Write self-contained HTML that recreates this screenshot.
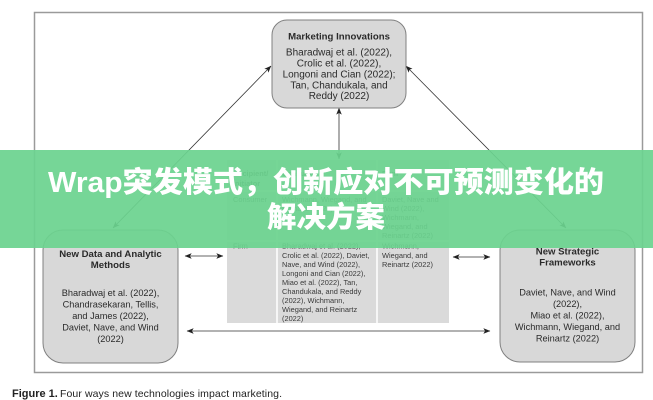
<!DOCTYPE html>
<html><head><meta charset="utf-8"><style>
html,body{margin:0;padding:0;background:#fff;}
svg{display:block;}
</style></head><body>
<svg width="653" height="400" viewBox="0 0 653 400" xmlns="http://www.w3.org/2000/svg" font-family="'Liberation Sans', Arial, sans-serif">
<defs>
<marker id="ah" viewBox="0 0 10 8" refX="9.5" refY="4" markerWidth="7" markerHeight="5.6" markerUnits="userSpaceOnUse" orient="auto-start-reverse">
<path d="M0,0 L10,4 L0,8 L2.5,4 Z" fill="#222"/>
</marker>
</defs>
<rect x="0" y="0" width="653" height="400" fill="#fff"/>
<!-- frame -->
<rect x="34.5" y="12.5" width="608" height="360" fill="none" stroke="#9a9a9a" stroke-width="1.5"/>

<!-- connectors -->
<g stroke="#333" stroke-width="0.8" fill="none">
<line x1="339" y1="159" x2="339" y2="108" marker-start="url(#ah)" marker-end="url(#ah)"/>
<line x1="113" y1="228" x2="271" y2="66" marker-start="url(#ah)" marker-end="url(#ah)"/>
<line x1="566" y1="228" x2="406" y2="66" marker-start="url(#ah)" marker-end="url(#ah)"/>
<line x1="185" y1="256" x2="223" y2="256" marker-start="url(#ah)" marker-end="url(#ah)"/>
<line x1="453" y1="257" x2="490" y2="257" marker-start="url(#ah)" marker-end="url(#ah)"/>
<line x1="187" y1="331" x2="490" y2="331" marker-start="url(#ah)" marker-end="url(#ah)"/>
</g>

<!-- Marketing Innovations -->
<rect x="272" y="20" width="134" height="88" rx="15" fill="#d8d8d8" stroke="#808080" stroke-width="1"/>
<g fill="#2a2a2a" text-anchor="middle">
<text x="339" y="39.5" font-size="9.6" font-weight="bold">Marketing Innovations</text>
<g font-size="10">
<text x="339" y="55.5">Bharadwaj et al. (2022),</text>
<text x="339" y="66.5">Crolic et al. (2022),</text>
<text x="339" y="77.5">Longoni and Cian (2022);</text>
<text x="339" y="88.5">Tan, Chandukala, and</text>
<text x="339" y="99">Reddy (2022)</text>
</g>
</g>

<!-- Left box -->
<rect x="43" y="230" width="135" height="133" rx="20" fill="#d8d8d8" stroke="#808080" stroke-width="1"/>
<g fill="#2a2a2a" text-anchor="middle">
<text x="110.5" y="257" font-size="9.6" font-weight="bold">New Data and Analytic</text>
<text x="110.5" y="268" font-size="9.6" font-weight="bold">Methods</text>
<g font-size="9.2">
<text x="110.5" y="296">Bharadwaj et al. (2022),</text>
<text x="110.5" y="307.5">Chandrasekaran, Tellis,</text>
<text x="110.5" y="319">and James (2022),</text>
<text x="110.5" y="330.5">Daviet, Nave, and Wind</text>
<text x="110.5" y="342">(2022)</text>
</g>
</g>

<!-- Right box -->
<rect x="500" y="230" width="135" height="132" rx="20" fill="#d8d8d8" stroke="#808080" stroke-width="1"/>
<g fill="#2a2a2a" text-anchor="middle">
<text x="567.5" y="254.5" font-size="9.6" font-weight="bold">New Strategic</text>
<text x="567.5" y="265.5" font-size="9.6" font-weight="bold">Frameworks</text>
<g font-size="9.2">
<text x="567.5" y="295.5">Daviet, Nave, and Wind</text>
<text x="567.5" y="307">(2022),</text>
<text x="567.5" y="318.5">Miao et al. (2022),</text>
<text x="567.5" y="330">Wichmann, Wiegand, and</text>
<text x="567.5" y="341.5">Reinartz (2022)</text>
</g>
</g>

<!-- Middle table -->
<rect x="227" y="160" width="222" height="163" fill="#dadada"/>
<g stroke="#fff" stroke-width="1.5">
<line x1="277" y1="160" x2="277" y2="323"/>
<line x1="377" y1="160" x2="377" y2="323"/>
<line x1="227" y1="191" x2="449" y2="191"/>
<line x1="227" y1="241" x2="449" y2="241"/>
</g>
<g fill="#3a3a3a" font-size="7.4">
<text x="233" y="176" font-weight="bold">Recipient/</text>
<text x="233" y="186" font-weight="bold">Initiator</text>
<text x="282" y="176" font-weight="bold">Consumer</text>
<text x="382" y="176" font-weight="bold">Firm</text>
<text x="233" y="202">Consumer</text>
<text x="282" y="202">Wichmann, Wiegand, and</text>
<text x="282" y="211">Reinartz (2022)</text>
<text x="382" y="202">Daviet, Nave and</text>
<text x="382" y="211">Wind (2022),</text>
<text x="382" y="220">Wichmann,</text>
<text x="382" y="229">Wiegand, and</text>
<text x="382" y="238">Reinartz (2022)</text>
<text x="233" y="248.7">Firm</text>
<text x="282" y="248.7">Bharadwaj et al. (2022),</text>
<text x="282" y="258">Crolic et al. (2022), Daviet,</text>
<text x="282" y="267">Nave, and Wind (2022),</text>
<text x="282" y="276">Longoni and Cian (2022),</text>
<text x="282" y="285">Miao et al. (2022), Tan,</text>
<text x="282" y="294">Chandukala, and Reddy</text>
<text x="282" y="303">(2022), Wichmann,</text>
<text x="282" y="312">Wiegand, and Reinartz</text>
<text x="282" y="321">(2022)</text>
<text x="382" y="248.7">Wichmann,</text>
<text x="382" y="258">Wiegand, and</text>
<text x="382" y="267">Reinartz (2022)</text>
</g>

<!-- Caption -->
<text x="12" y="397" font-size="10.5" fill="#222"><tspan font-weight="bold" font-size="11">Figure 1.</tspan><tspan x="60" textLength="222" lengthAdjust="spacing">Four ways new technologies impact marketing.</tspan></text>

<!-- Banner overlay -->
<rect x="0" y="150" width="653" height="98" fill="rgb(108,211,143)" fill-opacity="0.93"/>
<g fill="#fff" font-weight="900" text-anchor="middle" font-family="'Liberation Sans', 'Noto Sans CJK SC', 'WenQuanYi Zen Hei', sans-serif">
<text x="326" y="192" font-size="29" textLength="556" lengthAdjust="spacingAndGlyphs">Wrap突发模式，创新应对不可预测变化的</text>
<text x="326" y="227" font-size="29" textLength="118" lengthAdjust="spacingAndGlyphs">解决方案</text>
</g>
</svg>
</body></html>
